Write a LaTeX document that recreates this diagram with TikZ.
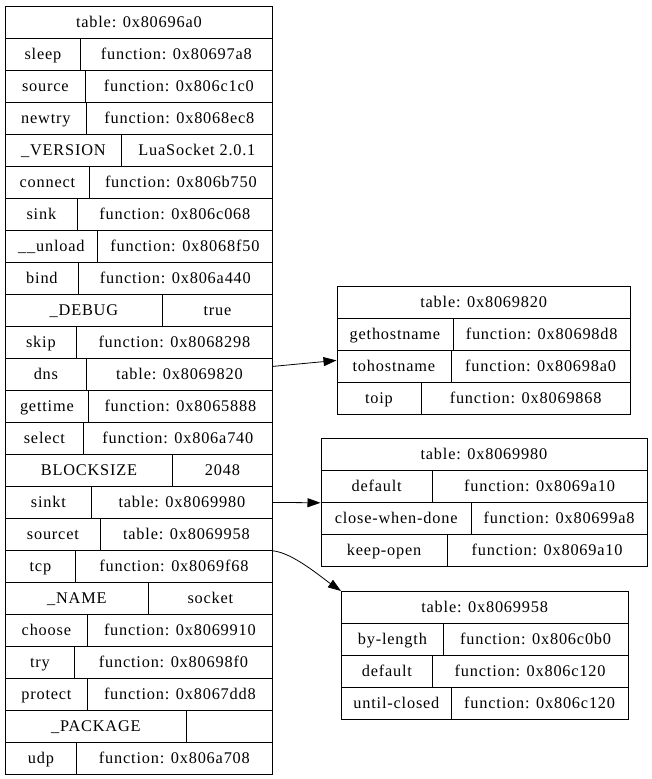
\documentclass[tikz,border=0pt]{standalone}
\usepackage{fontspec}
\setmainfont{Liberation Serif}[LetterSpace=5]
\usetikzlibrary{arrows.meta}

\tikzset{
  cell/.style={draw, line width=0.8pt, inner sep=0pt, minimum height=32pt, anchor=north west,
    text height=12pt, text depth=2pt, font=\fontsize{16.3}{19}\selectfont},
  link/.style={-{Triangle[length=13pt,width=9pt]}, line width=0.8pt},
}

\begin{document}
\begin{tikzpicture}[x=1pt,y=-1pt]
\useasboundingbox (0,0) rectangle (651,779);

% socket table
\node[cell, minimum width=267pt] (mainhead) at (5,6) {table: 0x80696a0};
\foreach \k/\d/\v [count=\i] in {sleep/80/function: 0x80697a8, source/85/function: 0x806c1c0,
  newtry/86/function: 0x8068ec8, \_VERSION/121/LuaSocket 2.0.1, connect/89/function: 0x806b750,
  sink/77/function: 0x806c068, \_\_unload/97/function: 0x8068f50, bind/78/function: 0x806a440,
  \_DEBUG/162/true, skip/76/function: 0x8068298, dns/86/table: 0x8069820,
  gettime/88/function: 0x8065888, select/83/function: 0x806a740, BLOCKSIZE/172/2048,
  sinkt/91/table: 0x8069980, sourcet/100/table: 0x8069958, tcp/75/function: 0x8069f68,
  \_NAME/148/socket, choose/87/function: 0x8069910, try/74/function: 0x80698f0,
  protect/87/function: 0x8067dd8, \_PACKAGE/186/{}, udp/76/function: 0x806a708}
{
  \node[cell, minimum width={(\d-5)*1pt}] (k\i) at (5,6+32*\i) {\k};
  \node[cell, minimum width={(272-\d)*1pt}] (v\i) at (\d,6+32*\i) {\v};
}

% dns table
\node[cell, minimum width=293.5pt] (dnshead) at (336.5,286) {table: 0x8069820};
\foreach \k/\d/\v [count=\i] in {gethostname/452.5/function: 0x80698d8,
  tohostname/450.5/function: 0x80698a0, toip/420.5/function: 0x8069868}
{
  \node[cell, minimum width={(\d-336.5)*1pt}] (dnsk\i) at (336.5,286+32*\i) {\k};
  \node[cell, minimum width={(630-\d)*1pt}] (dnsv\i) at (\d,286+32*\i) {\v};
}

% sinkt table
\node[cell, minimum width=326pt] (sinkthead) at (320.5,438) {table: 0x8069980};
\foreach \k/\d/\v [count=\i] in {default/432/function: 0x8069a10,
  close-when-done/471/function: 0x80699a8, keep-open/447/function: 0x8069a10}
{
  \node[cell, minimum width={(\d-320.5)*1pt}] (sinktk\i) at (320.5,438+32*\i) {\k};
  \node[cell, minimum width={(646.5-\d)*1pt}] (sinktv\i) at (\d,438+32*\i) {\v};
}

% sourcet table
\node[cell, minimum width=286.5pt] (sourcethead) at (341,591) {table: 0x8069958};
\foreach \k/\d/\v [count=\i] in {by-length/443/function: 0x806c0b0,
  default/432/function: 0x806c120, until-closed/451/function: 0x806c120}
{
  \node[cell, minimum width={(\d-341)*1pt}] (sourcetk\i) at (341,591+32*\i) {\k};
  \node[cell, minimum width={(627.5-\d)*1pt}] (sourcetv\i) at (\d,591+32*\i) {\v};
}

% links
\draw[link] ([yshift=8pt]v11.east) -- ([yshift=6pt]dnsk2.west);
\draw[link] (v15.east) -- (sinktk1.south west);
\draw[link] (v16.south east) .. controls +(20,2) and +(-20,-14) .. (sourcethead.north west);

\end{tikzpicture}
\end{document}
